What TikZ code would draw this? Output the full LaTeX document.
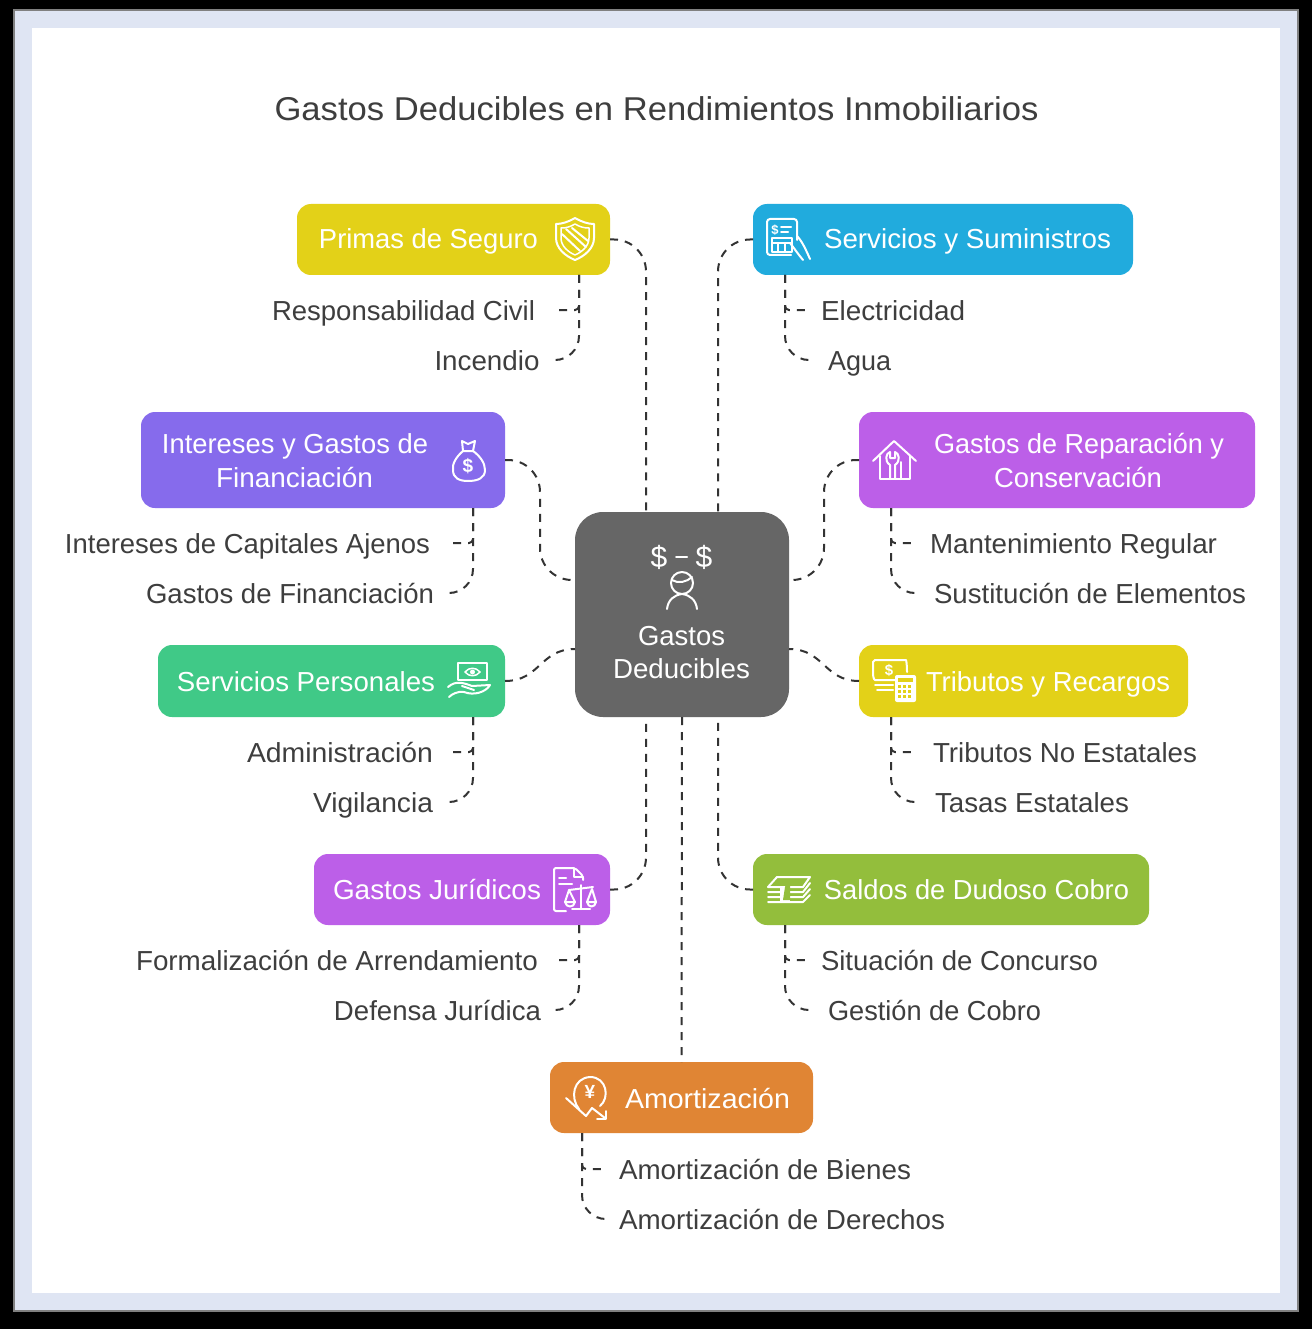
\documentclass[tikz,border=0pt]{standalone}
\usepackage{fontspec}
\usepackage{graphicx}
\setmainfont{Liberation Sans}
\usetikzlibrary{calc}
\definecolor{ink}{HTML}{3E3E3E}
\definecolor{lineink}{HTML}{333333}
\definecolor{frameblue}{HTML}{DFE5F3}
\definecolor{cyellow}{HTML}{E3D118}
\definecolor{cblue}{HTML}{21ABDD}
\definecolor{cindigo}{HTML}{866BEC}
\definecolor{cviolet}{HTML}{BC5FE8}
\definecolor{cgreen}{HTML}{40C987}
\definecolor{colive}{HTML}{93BE3C}
\definecolor{corange}{HTML}{E08534}
\definecolor{cgray}{HTML}{666666}
\newcommand\fitw[2]{\resizebox{#1pt}{\height}{#2}}
\tikzset{
  x=1pt,y=-1pt,
  box/.style={rounded corners=14pt,inner sep=0pt,outer sep=0pt},
  lbl/.style={anchor=base,inner sep=0pt,outer sep=0pt,text height=20pt,text depth=0pt,font=\fontsize{27.5}{30}\selectfont},
  sublbl/.style={lbl,text=ink},
  boxlbl/.style={lbl,text=white},
  conn/.style={draw=lineink,line width=2pt,dash pattern=on 8pt off 7pt},
  bigcurve/.style={conn,rounded corners=32pt},
  tree/.style={conn,rounded corners=24pt},
  stub/.style={conn,rounded corners=4pt},
  ic/.style={draw=white,line width=2pt,line cap=round,line join=round},
  icthin/.style={draw=white,line width=1.5pt,line cap=round,line join=round},
}
\begin{document}
\begin{tikzpicture}
\useasboundingbox (0,0) rectangle (1312,1329);
% frame
\fill[black] (0,0) rectangle (1312,1329);
\filldraw[fill=frameblue,draw=gray,line width=2pt] (14,10) rectangle (1298,1311);
\fill[white] (32,28) rectangle (1280,1293);
% title
\node[sublbl,font=\fontsize{33}{36}\selectfont] (title) at (656.5,121) {\fitw{764}{Gastos Deducibles en Rendimientos Inmobiliarios}};
% boxes
\node[box,fill=cgray,rounded corners=28pt,minimum width=214pt,minimum height=205pt] (central) at (682,614.5) {};
\node[box,fill=cyellow,minimum width=313pt,minimum height=71pt] (prim) at (453.5,239.5) {};
\node[box,fill=cblue,minimum width=380pt,minimum height=71pt] (serv) at (943,239.5) {};
\node[box,fill=cindigo,minimum width=364pt,minimum height=96pt] (inter) at (323,460) {};
\node[box,fill=cviolet,minimum width=396pt,minimum height=96pt] (repa) at (1057,460) {};
\node[box,fill=cgreen,minimum width=347pt,minimum height=72pt] (pers) at (331.5,681) {};
\node[box,fill=cyellow,minimum width=329pt,minimum height=72pt] (trib) at (1023.5,681) {};
\node[box,fill=cviolet,minimum width=296pt,minimum height=71pt] (juri) at (462,889.5) {};
\node[box,fill=colive,minimum width=396pt,minimum height=71pt] (sald) at (951,889.5) {};
\node[box,fill=corange,minimum width=263pt,minimum height=71pt] (amor) at (681.5,1097.5) {};
% box labels
\node[boxlbl] (tcentral1) at (681.5,645) {\fitw{87}{Gastos}};
\node[boxlbl] (tcentral2) at (681.5,678) {\fitw{137}{Deducibles}};
\node[boxlbl] (tprim) at (428.5,249) {\fitw{219}{Primas de Seguro}};
\node[boxlbl] (tserv) at (967.5,249) {\fitw{287}{Servicios y Suministros}};
\node[boxlbl] (tinter1) at (295,453) {\fitw{266}{Intereses y Gastos de}};
\node[boxlbl] (tinter2) at (294.5,487) {\fitw{157}{Financiación}};
\node[boxlbl] (trepa1) at (1079,453) {\fitw{290}{Gastos de Reparación y}};
\node[boxlbl] (trepa2) at (1078,487) {\fitw{168}{Conservación}};
\node[boxlbl] (tpers) at (306,691) {\fitw{258}{Servicios Personales}};
\node[boxlbl] (ttrib) at (1048,691) {\fitw{244}{Tributos y Recargos}};
\node[boxlbl] (tjuri) at (437,899) {\fitw{208}{Gastos Jurídicos}};
\node[boxlbl] (tsald) at (976.5,899) {\fitw{305}{Saldos de Dudoso Cobro}};
\node[boxlbl] (tamor) at (707.5,1108) {\fitw{165}{Amortización}};
% sub labels
\node[sublbl] (a1) at (403.5,320) {\fitw{263}{Responsabilidad Civil}};
\node[sublbl] (a2) at (487,370) {\fitw{105}{Incendio}};
\node[sublbl] (b1) at (893,320) {\fitw{144}{Electricidad}};
\node[sublbl] (b2) at (859.5,370) {\fitw{63}{Agua}};
\node[sublbl] (c1) at (247.5,553) {\fitw{365}{Intereses de Capitales Ajenos}};
\node[sublbl] (c2) at (290,603) {\fitw{288}{Gastos de Financiación}};
\node[sublbl] (d1) at (1073.5,553) {\fitw{287}{Mantenimiento Regular}};
\node[sublbl] (d2) at (1090,603) {\fitw{312}{Sustitución de Elementos}};
\node[sublbl] (e1) at (340,762) {\fitw{186}{Administración}};
\node[sublbl] (e2) at (373,812) {\fitw{120}{Vigilancia}};
\node[sublbl] (f1) at (1065,762) {\fitw{264}{Tributos No Estatales}};
\node[sublbl] (f2) at (1032,812) {\fitw{194}{Tasas Estatales}};
\node[sublbl] (g1) at (337,970) {\fitw{402}{Formalización de Arrendamiento}};
\node[sublbl] (g2) at (437.5,1020) {\fitw{207}{Defensa Jurídica}};
\node[sublbl] (h1) at (959.5,970) {\fitw{277}{Situación de Concurso}};
\node[sublbl] (h2) at (934.5,1020) {\fitw{213}{Gestión de Cobro}};
\node[sublbl] (i1) at (765,1179) {\fitw{292}{Amortización de Bienes}};
\node[sublbl] (i2) at (782,1229) {\fitw{326}{Amortización de Derechos}};
% centre connectors
\path[bigcurve] (prim.east) -| ([xshift=-36pt]central.north);
\path[bigcurve] (serv.west) -| ([xshift=36pt]central.north);
\path[bigcurve] (juri.east) -| ([xshift=-36pt]central.south);
\path[bigcurve] (sald.west) -| ([xshift=36pt]central.south);
\path[conn] (central.south) -- (amor.north);
\path[bigcurve] (inter.east) -- ++(35,0) |- ([yshift=34.5pt]central.west);
\path[bigcurve] (repa.west) -- ++(-35,0) |- ([yshift=34.5pt]central.east);
\coordinate (cpw) at ([yshift=-34.5pt]central.west);
\coordinate (cpe) at ([yshift=-34.5pt]central.east);
\path[conn] (pers.east) .. controls +(35,0) and ($(cpw)+(-35,0)$) .. (cpw);
\path[conn] (trib.west) .. controls +(-35,0) and ($(cpe)+(35,0)$) .. (cpe);
% tree connectors
\path[stub] ([xshift=-31pt]prim.south east) |- ([xshift=18pt]a1.east);
\path[tree] ([xshift=-31pt]prim.south east) |- ([xshift=13pt]a2.east);
\path[stub] ([xshift=32pt]serv.south west) |- ([xshift=-12pt]b1.west);
\path[tree] ([xshift=32pt]serv.south west) |- ([xshift=-17pt]b2.west);
\path[stub] ([xshift=-32pt]inter.south east) |- ([xshift=19pt]c1.east);
\path[tree] ([xshift=-32pt]inter.south east) |- ([xshift=13pt]c2.east);
\path[stub] ([xshift=32pt]repa.south west) |- ([xshift=-15pt]d1.west);
\path[tree] ([xshift=32pt]repa.south west) |- ([xshift=-17pt]d2.west);
\path[stub] ([xshift=-32pt]pers.south east) |- ([xshift=17pt]e1.east);
\path[tree] ([xshift=-32pt]pers.south east) |- ([xshift=14pt]e2.east);
\path[stub] ([xshift=32pt]trib.south west) |- ([xshift=-18pt]f1.west);
\path[tree] ([xshift=32pt]trib.south west) |- ([xshift=-18pt]f2.west);
\path[stub] ([xshift=-31pt]juri.south east) |- ([xshift=15pt]g1.east);
\path[tree] ([xshift=-31pt]juri.south east) |- ([xshift=11pt]g2.east);
\path[stub] ([xshift=32pt]sald.south west) |- ([xshift=-12pt]h1.west);
\path[tree] ([xshift=32pt]sald.south west) |- ([xshift=-17pt]h2.west);
\path[stub] ([xshift=32pt]amor.south west) |- ([xshift=-13pt]i1.west);
\path[tree] ([xshift=32pt]amor.south west) |- ([xshift=-13pt]i2.west);
% --- icons ---
% central
\node[text=white,inner sep=0pt,font=\fontsize{30}{32}\selectfont] (dollar1) at (659,557) {\$};
\node[text=white,inner sep=0pt,font=\fontsize{30}{32}\selectfont] (dollar2) at (704,557) {\$};
\draw[ic] (676,557) -- (687,557);
\draw[ic] (682,583) circle (11);
\draw[ic] (672,580) .. controls (678,584) and (687,582) .. (692,577);
\draw[ic] (667,609) .. controls (668,600) and (674,595) .. (682,594) .. controls (690,595) and (696,600) .. (697,609);
% shield
\draw[ic] (575,218) .. controls (568,222) and (562,224) .. (556,224) -- (556,238) .. controls (556,248) and (565,256) .. (575,260) .. controls (585,256) and (594,248) .. (594,238) -- (594,224) .. controls (588,224) and (582,222) .. (575,218) -- cycle;
\draw[icthin] (575,224) .. controls (570,227) and (566,228) .. (561,228) -- (561,238) .. controls (561,246) and (568,252) .. (575,255) .. controls (582,252) and (589,246) .. (589,238) -- (589,228) .. controls (584,228) and (580,227) .. (575,224) -- cycle;
\draw[ic] (566,229) -- (586,247);
\draw[ic] (572,228) -- (588,241);
\draw[ic] (562,234) -- (580,251);
% receipt and hand
\draw[ic,rounded corners=3pt] (791,255) -- (767,255) -- (767,219) -- (797,219) -- (797,240);
\node[text=white,inner sep=0pt,font=\bfseries\fontsize{13}{13}\selectfont] (rdollar) at (775,230) {\$};
\draw[ic] (781,227) -- (791,227);
\draw[ic] (781,232) -- (788,232);
\draw[icthin] (772,238) rectangle (792,252);
\draw[icthin] (772,243) -- (792,243) (778,243) -- (778,252) (785,243) -- (785,252);
\draw[ic] (797,236) .. controls (802,241) and (806,250) .. (810,259);
\draw[ic] (790,243) .. controls (794,248) and (798,254) .. (803,260);
% money bag
\draw[ic] (462,441) -- (468,444) -- (475,441) -- (473,451) -- (463,451) -- cycle;
\draw[ic] (463,451) .. controls (456,457) and (452,464) .. (453,470) .. controls (453,478) and (459,481) .. (468,481) .. controls (478,481) and (485,478) .. (485,470) .. controls (485,463) and (480,456) .. (473,451);
\node[text=white,inner sep=0pt,font=\bfseries\fontsize{19}{19}\selectfont] (bagdollar) at (468,466) {\$};
% house
\draw[ic] (873,461) -- (894,441) -- (916,461);
\draw[ic] (880,456) -- (880,479) -- (910,479) -- (910,456);
\draw[ic] (890,479) -- (890,465) .. controls (884,461) and (886,453) .. (890,452) -- (890,458) -- (895,458) -- (895,452) .. controls (899,453) and (901,461) .. (895,465) -- (895,479);
\draw[ic] (901,479) -- (901,462);
% hand with bill
\draw[ic] (458,663) rectangle (487,680);
\draw[icthin] (465,672) .. controls (469,667) and (476,667) .. (480,672) .. controls (476,677) and (469,677) .. (465,672) -- cycle;
\fill[white] (472.5,672) circle (2.5);
\draw[ic] (448,687) .. controls (456,680) and (464,683) .. (472,686) -- (490,685) .. controls (486,692) and (474,696) .. (464,692) .. controls (458,691) and (452,694) .. (449,697);
\draw[ic] (462,686) -- (474,690);
% bills with calculator
\draw[ic,rounded corners=3pt] (895,680) -- (878,680) .. controls (874,680) and (873,676) .. (873,672) -- (873,665) .. controls (873,662) and (875,660) .. (878,660) -- (903,660) .. controls (906,660) and (907,663) .. (907,672);
\node[text=white,inner sep=0pt,font=\bfseries\fontsize{15}{15}\selectfont] (billdollar) at (889,670) {\$};
\draw[ic] (875,685) -- (893,685);
\draw[ic] (877,690) -- (893,690);
\fill[white,rounded corners=2pt] (895,675) rectangle (916,702);
\fill[cyellow] (898,678) rectangle (913,682);
\foreach \cx in {898,903,908}{\foreach \cy in {685,690,695}{\fill[cyellow] (\cx,\cy) rectangle +(3,3);}}
% document and scales
\draw[ic,rounded corners=2pt] (583,880) -- (583,876) -- (575,868) -- (554,868) -- (554,911) -- (566,911);
\draw[ic] (574,868) -- (574,877) -- (583,877);
\draw[ic] (559,878) -- (566,878);
\draw[ic] (559,884) -- (572,884);
\draw[ic] (581,885) -- (581,909) (572,909) -- (590,909);
\draw[ic] (569,890) -- (593,887);
\draw[ic] (565,902) .. controls (566,908) and (574,908) .. (575,902) -- cycle;
\draw[ic] (569,890) -- (565,902) (569,890) -- (575,902);
\draw[ic] (587,902) .. controls (588,908) and (595,908) .. (596,902) -- cycle;
\draw[ic] (592,889) -- (587,902) (592,889) -- (596,902);
% cash stack
\draw[ic] (768,887) -- (777,877) -- (810,877) -- (803,887) -- cycle;
\draw[ic] (768,892) -- (803,892) -- (810,883);
\draw[ic] (768,897) -- (803,897) -- (810,889);
\draw[ic] (768,902) -- (803,902) -- (810,895);
\fill[white] (780,887) rectangle (790,902);
\fill[colive] (785,887) -- (787,881) -- (790,884) -- (790,900) -- (783,900) -- cycle;
% yen
\draw[ic] (579,1109) .. controls (570,1098) and (573,1078) .. (590,1077) .. controls (607,1077) and (610,1098) .. (600,1106);
\node[text=white,inner sep=0pt,font=\bfseries\fontsize{19}{19}\selectfont] (yen) at (590,1092) {¥};
\draw[ic] (566,1098) -- (586,1116) -- (592,1108) -- (605,1118);
\draw[ic] (597,1119) -- (606,1119) -- (606,1111);
\end{tikzpicture}
\end{document}
